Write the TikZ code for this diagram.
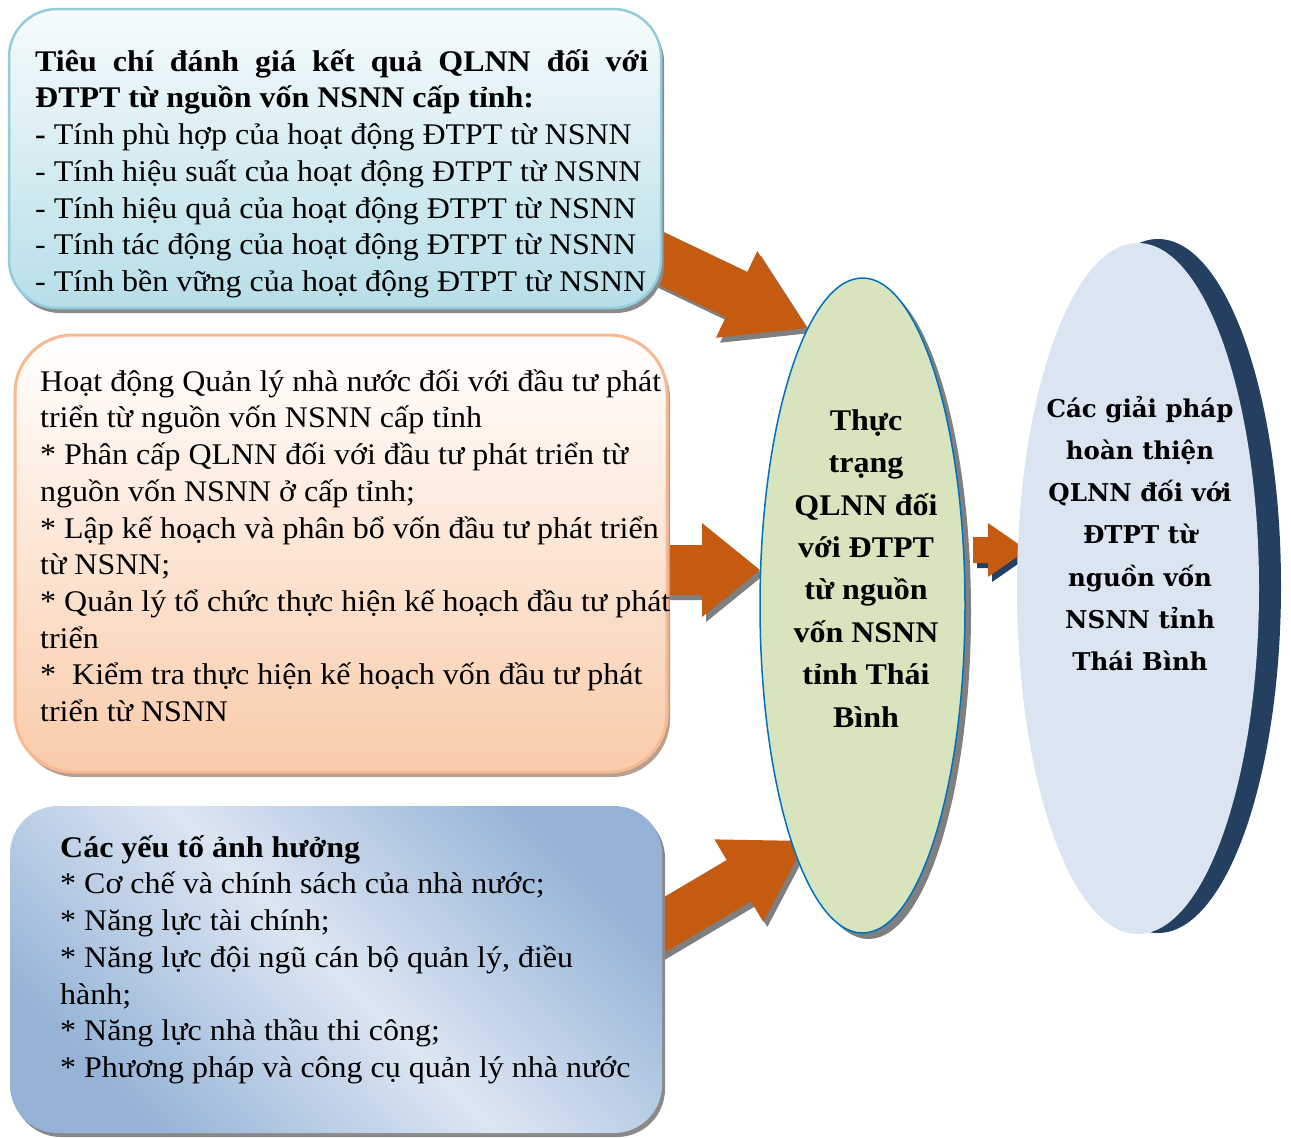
\documentclass[tikz,border=0pt]{standalone}
\usepackage{fontspec}
\setmainfont{Liberation Serif}[FakeStretch=1.066]
\newfontfamily\wideserif{DejaVu Serif}
\usetikzlibrary{shapes.geometric,shadows}
\definecolor{arrowor}{HTML}{C55A11}
\definecolor{arrowsh}{HTML}{7F7F7F}
\definecolor{darkblue}{HTML}{243F60}
\definecolor{greenfill}{HTML}{D7E4BD}
\definecolor{blueline}{HTML}{0070C0}
\definecolor{lightblue}{HTML}{DBE5F1}
\definecolor{topA}{HTML}{F6FBFC}
\definecolor{topB}{HTML}{B7DEE8}
\definecolor{topline}{HTML}{93CDDD}
\definecolor{midA}{HTML}{FFFFFF}
\definecolor{midB}{HTML}{F9CBA9}
\definecolor{midline}{HTML}{F7B990}
\definecolor{midsh}{HTML}{B8A090}
\definecolor{botA}{HTML}{95B3D7}
\definecolor{botB}{HTML}{DCE6F2}
\definecolor{boxsh}{HTML}{8A8A8A}
\newcommand{\myblockarrow}[9]{%
  \begin{scope}[shift={(#1+4,#2+5)},rotate=#3]
    \fill[#8] (0,0) -- (-#4,#5) -- (-#4,#6) -- (-#7,#6) -- (-#7,-#6) -- (-#4,-#6) -- (-#4,-#5) -- cycle;
  \end{scope}
  \begin{scope}[shift={(#1,#2)},rotate=#3]
    \fill[#9] (0,0) -- (-#4,#5) -- (-#4,#6) -- (-#7,#6) -- (-#7,-#6) -- (-#4,-#6) -- (-#4,-#5) -- cycle;
  \end{scope}}
\begin{document}
\begin{tikzpicture}[x=1pt,y=-1pt,
  boxtext/.style={anchor=north west, inner sep=0pt, align=left, font=\fontsize{30}{36.7}\selectfont},
  elltext/.style={anchor=north, inner sep=0pt, align=center},
  roundbox/.style={rectangle, rounded corners=48pt, inner sep=0pt}]
\useasboundingbox (0,0) rectangle (1291,1138);
\fill[white] (0,0) rectangle (1291,1138);

% block arrows
\myblockarrow{807}{328}{-25.5}{78}{48}{25}{185}{arrowsh}{arrowor}
\myblockarrow{760}{570}{0}{58}{47}{25}{100}{arrowsh}{arrowor}
\myblockarrow{806}{841}{30.6}{78}{48}{24}{185}{arrowsh}{arrowor}
\myblockarrow{1027}{550}{0}{39}{27}{13}{54}{darkblue}{arrowor}

% boxes
\node[roundbox, minimum width=652pt, minimum height=299pt,
  top color=topA, bottom color=topB, draw=topline, line width=2.5pt,
  drop shadow={shadow xshift=3pt, shadow yshift=-5pt, fill=boxsh, opacity=1}]
  (box1) at (335,158.5) {};
\node[roundbox, minimum width=652pt, minimum height=437pt, rounded corners=58pt,
  top color=midA, bottom color=midB, draw=midline, line width=3pt,
  drop shadow={shadow xshift=3pt, shadow yshift=-5pt, fill=midsh, opacity=1}]
  (box2) at (341,553.5) {};
\node[roundbox, minimum width=652pt, minimum height=327pt,
  top color=botA, bottom color=botA, middle color=botB, shading angle=-45,
  drop shadow={shadow xshift=3pt, shadow yshift=-4pt, fill=boxsh, opacity=1}]
  (box3) at (336,969.5) {};

% ellipses
\node[ellipse, inner sep=0pt, minimum width=205pt, minimum height=655pt,
  fill=greenfill, draw=blueline, line width=1.5pt,
  drop shadow={shadow xshift=6pt, shadow yshift=-6pt, fill=arrowsh, opacity=1}]
  (ell1) at (862.5,605.5) {};
\node[ellipse, inner sep=0pt, minimum width=246pt, minimum height=694pt,
  fill=darkblue] (ell2s) at (1158,586) {};
\node[ellipse, inner sep=0pt, minimum width=242pt, minimum height=691pt,
  fill=lightblue] (ell2) at (1138,588.5) {};

% texts
\node[boxtext] (t1) at (35,41) {\rule{0pt}{30pt}\textbf{\makebox[613pt][s]{Tiêu chí đánh giá kết quả QLNN đối với}}\\
\textbf{ĐTPT từ nguồn vốn NSNN cấp tỉnh:}\\
\textbf{-} Tính phù hợp của hoạt động ĐTPT từ NSNN\\
- Tính hiệu suất của hoạt động ĐTPT từ NSNN\\
- Tính hiệu quả của hoạt động ĐTPT từ NSNN\\
- Tính tác động của hoạt động ĐTPT từ NSNN\\
- Tính bền vững của hoạt động ĐTPT từ NSNN};

\node[boxtext] (t2) at (40,361) {\rule{0pt}{30pt}Hoạt động Quản lý nhà nước đối với đầu tư phát\\
triển từ nguồn vốn NSNN cấp tỉnh\\
* Phân cấp QLNN đối với đầu tư phát triển từ\\
nguồn vốn NSNN ở cấp tỉnh;\\
* Lập kế hoạch và phân bổ vốn đầu tư phát triển\\
từ NSNN;\\
* Quản lý tổ chức thực hiện kế hoạch đầu tư phát\\
triển\\
*\ \ Kiểm tra thực hiện kế hoạch vốn đầu tư phát\\
triển từ NSNN};

\node[boxtext] (t3) at (60,827) {\rule{0pt}{30pt}\textbf{Các yếu tố ảnh hưởng}\\
* Cơ chế và chính sách của nhà nước;\\
* Năng lực tài chính;\\
* Năng lực đội ngũ cán bộ quản lý, điều\\
hành;\\
* Năng lực nhà thầu thi công;\\
* Phương pháp và công cụ quản lý nhà nước};

\node[elltext, font=\fontsize{30}{42.4}\selectfont\bfseries] (t4) at (866,400)
  {\rule{0pt}{30pt}Thực\\trạng\\QLNN đối\\với ĐTPT\\từ nguồn\\vốn NSNN\\tỉnh Thái\\Bình};
\node[elltext, font=\wideserif\fontsize{24.5}{42.2}\selectfont\bfseries] (t5) at (1140,391)
  {\rule{0pt}{26pt}Các giải pháp\\hoàn thiện\\QLNN đối với\\ĐTPT từ\\nguồn vốn\\NSNN tỉnh\\Thái Bình};
\end{tikzpicture}
\end{document}
